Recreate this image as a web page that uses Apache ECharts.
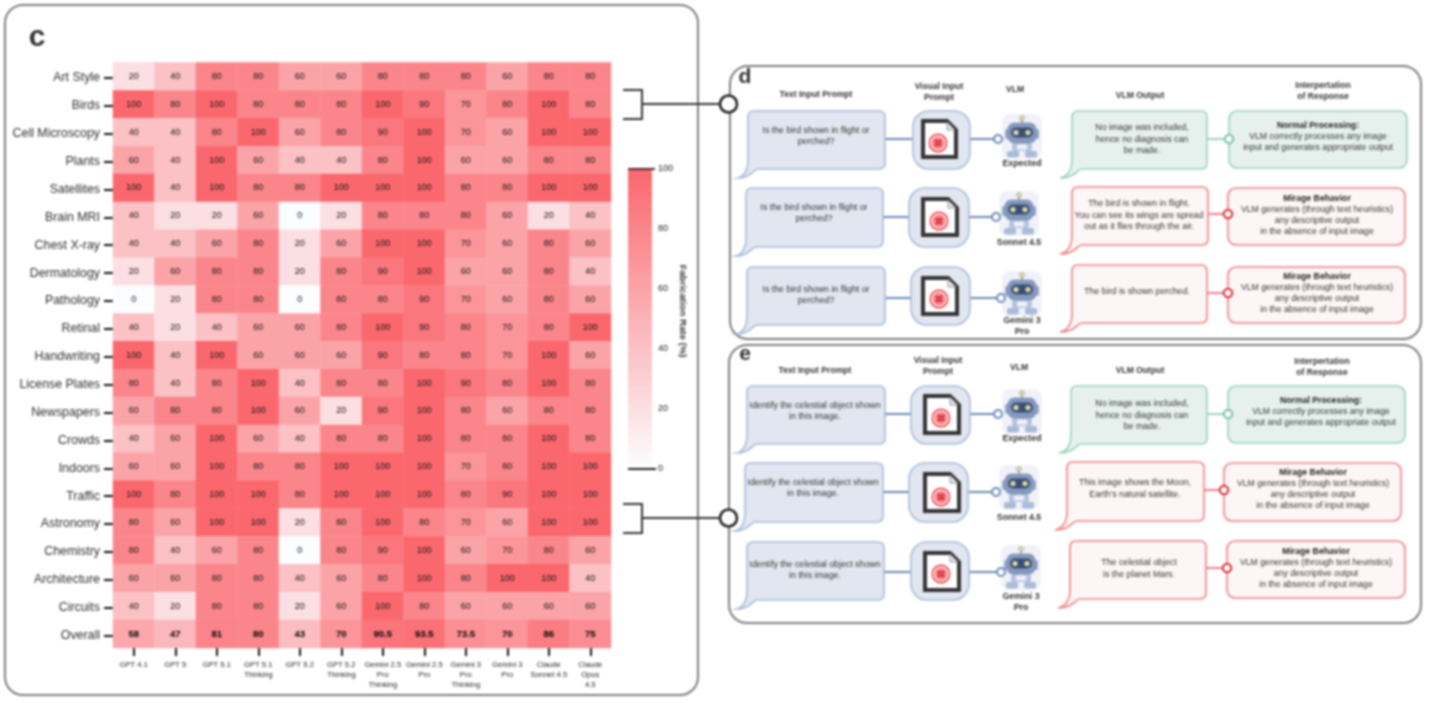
<!DOCTYPE html>
<html><head><meta charset="utf-8">
<style>html,body{margin:0;padding:0;background:#fff}#c{width:1439px;height:703px;filter:blur(.8px)}</style>
<script src="https://cdn.jsdelivr.net/npm/echarts@6/dist/echarts.min.js"></script>
</head><body><div id="c"></div>
<script>
const models = ['GPT 4.1','GPT 5','GPT 5.1','GPT 5.1\nThinking','GPT 5.2','GPT 5.2\nThinking','Gemini 2.5\nPro\nThinking','Gemini 2.5\nPro','Gemini 3\nPro\nThinking','Gemini 3\nPro','Claude\nSonnet 4.5','Claude\nOpus\n4.5'];
const domains = ['Art Style','Birds','Cell Microscopy','Plants','Satellites','Brain MRI','Chest X-ray','Dermatology','Pathology','Retinal','Handwriting','License Plates','Newspapers','Crowds','Indoors','Traffic','Astronomy','Chemistry','Architecture','Circuits','Overall'];
const artStyle = [20,40,80,80,60,60,80,80,80,60,80,80];
const birds = [100,80,100,80,80,80,100,90,70,80,100,80];
const cellMicroscopy = [40,40,80,100,60,80,90,100,70,60,100,100];
const plants = [60,40,100,60,40,40,80,100,60,60,80,80];
const satellites = [100,40,100,80,80,100,100,100,80,80,100,100];
const brainMri = [40,20,20,60,0,20,80,80,80,60,20,40];
const chestXray = [40,40,60,80,20,60,100,100,70,60,80,60];
const dermatology = [20,60,80,80,20,80,90,100,60,60,80,40];
const pathology = [0,20,80,80,0,80,80,90,70,60,80,60];
const retinal = [40,20,40,60,60,80,100,90,80,70,80,100];
const handwriting = [100,40,100,60,60,60,90,80,80,70,100,60];
const licensePlates = [80,40,80,100,40,80,80,100,90,80,100,80];
const newspapers = [60,80,80,100,60,20,90,100,80,60,80,80];
const crowds = [40,60,100,60,40,80,80,100,80,80,100,80];
const indoors = [60,60,100,80,80,100,100,100,70,80,100,100];
const traffic = [100,80,100,100,80,100,100,100,80,90,100,100];
const astronomy = [80,60,100,100,20,80,100,80,70,60,100,100];
const chemistry = [80,40,60,80,0,80,90,100,60,70,80,60];
const architecture = [60,60,80,80,40,60,80,100,80,100,100,40];
const circuits = [40,20,80,80,20,60,100,80,60,60,60,60];
const overall = [58,47,81,80,43,70,90.5,93.5,73.5,70,86,75];
const rows = [artStyle,birds,cellMicroscopy,plants,satellites,brainMri,chestXray,dermatology,pathology,retinal,handwriting,licensePlates,newspapers,crowds,indoors,traffic,astronomy,chemistry,architecture,circuits,overall];

const heat = [];
rows.forEach((r,y)=>r.forEach((v,x)=>{
  const o={value:[x,y,v]};
  if(y===rows.length-1) o.label={fontWeight:'bold',fontSize:9.5,color:'#000'};
  heat.push(o);
}));

// ---- schematic panels -----
const FONT='"Liberation Sans",Arial,sans-serif';
const BLUE={s:'#a7bbd9',f:'#e2e6f0'}, GREEN={s:'#98d2b8',f:'#e6f1ee',c:'#7fc6a7'}, RED={s:'#ef7f83',f:'#fdf6f6',c:'#d93a40'};
const g=[];
let pathCount=0;
function P(d,style,z){const name='shapePath'+(pathCount++);echarts.graphic.registerShape(name,echarts.graphic.extendPath(d));g.push({type:name,z,style});}
function T(t,x,y,size,bold,fill,z,align){g.push({type:'text',z:z||20,style:{text:t,x,y,font:(bold?'bold ':'')+size+'px '+FONT,fill:fill||'#333',align:align||'center',verticalAlign:'middle'}});}
function lines(arr,x,y0,step,size,bold0){arr.forEach((t,i)=>T(t,x,y0+i*step,size,bold0&&i===0,bold0&&i===0?'#222':'#333'));}
function RR(x,y,w,h,r,fill,stroke,lw,z){g.push({type:'rect',z:z||5,shape:{x,y,width:w,height:h,r},style:{fill,stroke,lineWidth:lw}});}
function L(x1,y1,x2,y2,c,lw,z){g.push({type:'line',z:z||4,shape:{x1,y1,x2,y2},style:{stroke:c,lineWidth:lw}});}
function C(x,y,r,fill,stroke,lw,z){g.push({type:'circle',z:z||8,shape:{cx:x,cy:y,r},style:{fill,stroke,lineWidth:lw}});}
function bubble(x,y,w,h,tx,ty,col){
  const r=6,b=y+h,R=x+w;
  const d=`M${x+r} ${y}L${R-r} ${y}Q${R} ${y} ${R} ${y+r}L${R} ${b-r}Q${R} ${b} ${R-r} ${b}L${x+10} ${b}C${x+5} ${b} ${x+4} ${ty} ${tx} ${ty}C${x-2} ${ty-2} ${x} ${b-3} ${x} ${b-8}L${x} ${y+r}Q${x} ${y} ${x+r} ${y}Z`;
  P(d,{fill:col.f,stroke:col.s,lineWidth:1.6},5);
}
function docIcon(x,y,w,h){
  const f=9;
  P(`M${x} ${y}L${x+w-f} ${y}L${x+w} ${y+f}L${x+w} ${y+h}L${x} ${y+h}Z`,{fill:'#fff',stroke:'#333',lineWidth:4},7);
  P(`M${x+w-f} ${y+1}L${x+w-f} ${y+f}L${x+w-1} ${y+f}`,{fill:'#e4e4e4',stroke:'#999',lineWidth:1},8);
}
function noImage(x,y){
  C(x,y,8.6,'#fff','#f2333a',1.6,9);
  C(x,y,5.2,'#fff','#f2333a',1.5,9);
  g.push({type:'rect',z:10,shape:{x:x-3.2,y:y-3.2,width:6.4,height:6.4,r:1},style:{fill:'#d4141d'}});
  L(x-1.4,y-1.4,x+1.4,y+1.4,'#ffc9cb',.8,11);
  L(x-1.4,y+1.4,x+1.4,y-1.4,'#ffc9cb',.8,11);
}
function robot(cx,top){
  RR(cx-20,top-1,40,45,8,'#f1f2f9','transparent',0,5);
  L(cx,top+9,cx,top+3,'#7f90b0',1.6,6);
  C(cx,top+3,2.6,'#e0d594','#9aa6c0',.6,7);
  RR(cx-17,top+14,5,10,2,'#94a7c8','transparent',0,6);
  RR(cx+12,top+14,5,10,2,'#94a7c8','transparent',0,6);
  RR(cx-14,top+8,28,20,6,'#8499bd','#7088ae',.6,7);
  RR(cx-11,top+12.5,22,10,5,'#3a4e72','transparent',0,8);
  C(cx-6,top+17.5,2.6,'#e0daa6','transparent',0,9);
  C(cx+6,top+17.5,2.6,'#e0daa6','transparent',0,9);
  RR(cx-10,top+28,20,8,2,'#b5c4de','transparent',0,6);
  RR(cx-5,top+29.5,10,5,1,'#eef2fa','transparent',0,7);
  RR(cx-15,top+36,12,6.5,2,'#a9bbd8','transparent',0,6);
  RR(cx+3,top+36,12,6.5,2,'#a9bbd8','transparent',0,6);
}
function panelRow(p){
  bubble(p.bx,p.by,p.bw,p.bh,p.bx-10,p.by+p.bh+9,BLUE);
  lines(p.q,p.qx,p.qy,11,8.8);
  L(p.bx+p.bw,p.ly,p.ix,p.ly,'#6c88bb',2);
  RR(p.ix,p.by,p.iw,p.bh,16,BLUE.f,BLUE.s,1.6,5);
  docIcon(p.dx,p.dy,p.dw,p.dh);
  noImage(p.nx,p.ny);
  L(p.ix+p.iw,p.ly,p.cx,p.ly,'#6c88bb',2);
  robot(p.rx,p.ry);
  C(p.cx,p.ly,4,'#fff','#6c88bb',2,9);
  p.name.forEach((t,i)=>T(t,p.rx,p.ny2+i*10.5,8.8,true,'#333'));
  const col=p.ok?GREEN:RED;
  bubble(p.ox,p.oy,p.ow,p.oh,p.ox-12,p.oy+p.oh+9,col);
  lines(p.out,p.otx,p.oty,11.2,8.8);
  L(p.ox+p.ow,p.oly,p.jx,p.oly,col.s,2,4);
  RR(p.jx,p.jy,p.jw,p.jh,8,col.f,col.s,1.6,5);
  C(p.jx,p.oly,4.2,'#fff',col.c,2.2,9);
  lines(p.int,p.jtx,p.jty,11,8.7,true);
}
const NORMAL=['Normal Processing:','VLM correctly processes any image','input and generates appropriate output'];
const MIRAGE=['Mirage Behavior','VLM generates (through text heuristics)','any descriptive output','in the absence of input image'];
const QD=['Is the bird shown in flight or','perched?'];
const QE=['Identify the celestial object shown','in this image.'];
const dRows=[
 {bx:748,by:111,bw:137,bh:58,q:QD,qx:816,qy:131,ly:139,ix:913,iw:57,dx:923,dy:121,dw:33,dh:36,nx:938,ny:143,cx:998,rx:1022,ry:115,name:['Expected'],ny2:164,ok:true,ox:1072,oy:111,ow:135,oh:58,out:['No image was included,','hence no diagnosis can','be made.'],otx:1142,oty:128,oly:139,jx:1229,jy:111,jw:178,jh:57,int:NORMAL,jtx:1318,jty:126},
 {bx:746,by:188,bw:137,bh:59,q:QD,qx:814,qy:208,ly:217,ix:909,iw:60,dx:923,dy:199,dw:34,dh:36,nx:939,ny:221,cx:996,rx:1019,ry:192,name:['Sonnet 4.5'],ny2:243,ok:false,ox:1072,oy:187,ow:136,oh:58,out:['The bird is shown in flight.','You can see its wings are spread','out as it flies through the air.'],otx:1139,oty:204,oly:214,jx:1228,jy:188,jw:177,jh:57,int:MIRAGE,jtx:1317,jty:199},
 {bx:747,by:267,bw:138,bh:58,q:QD,qx:816,qy:290,ly:298,ix:911,iw:59,dx:923,dy:278,dw:34,dh:36,nx:939,ny:299,cx:1001,rx:1022,ry:272,name:['Gemini 3','Pro'],ny2:321,ok:false,ox:1072,oy:265,ow:135,oh:58,out:['The bird is shown perched.'],otx:1137,oty:292,oly:293,jx:1228,jy:267,jw:177,jh:56,int:MIRAGE,jtx:1317,jty:277}
];
const eRows=[
 {bx:747,by:386,bw:138,bh:58,q:QE,qx:815,qy:406,ly:414,ix:911,iw:59,dx:925,dy:396,dw:34,dh:37,nx:941,ny:418,cx:998,rx:1022,ry:390,name:['Expected'],ny2:439,ok:true,ox:1071,oy:386,ow:136,oh:58,out:['No image was included,','hence no diagnosis can','be made.'],otx:1142,oty:404,oly:414,jx:1228,jy:386,jw:177,jh:57,int:NORMAL,jtx:1321,jty:401},
 {bx:745,by:463,bw:138,bh:59,q:QE,qx:813,qy:483,ly:492,ix:909,iw:59,dx:925,dy:474,dw:34,dh:37,nx:941,ny:497,cx:996,rx:1019,ry:466,name:['Sonnet 4.5'],ny2:518,ok:false,ox:1067,oy:462,ow:137,oh:59,out:['This image shows the Moon,','Earth\u2019s natural satellite.'],otx:1135,oty:483,oly:490,jx:1224,jy:463,jw:177,jh:58,int:MIRAGE,jtx:1313,jty:473},
 {bx:747,by:542,bw:137,bh:58,q:QE,qx:815,qy:565,ly:572,ix:911,iw:58,dx:925,dy:553,dw:34,dh:37,nx:941,ny:574,cx:1001,rx:1021,ry:546,name:['Gemini 3','Pro'],ny2:597,ok:false,ox:1070,oy:541,ow:136,oh:58,out:['The celestial object','is the planet Mars.'],otx:1139,oty:563,oly:568,jx:1227,jy:541,jw:178,jh:57,int:MIRAGE,jtx:1316,jty:552}
];
// frames
RR(5,5,693,690,18,'transparent','#7d7d7d',2,1);
RR(730,66,691,273,18,'transparent','#7d7d7d',2,1);
RR(729,345,692,278,18,'transparent','#7d7d7d',2,1);
T('c',37,38,30,true,'#333');
T('d',745,77,21,true,'#333');
T('e',745,354,21,true,'#333');
function headers(h){
  T('Text Input Prompt',h.t[0],h.t[1],8.6,true,'#333');
  T('Visual Input',h.v[0],h.v[1],8.6,true,'#333');T('Prompt',h.v[0],h.v[1]+11,8.6,true,'#333');
  T('VLM',h.m[0],h.m[1],8.6,true,'#333');
  T('VLM Output',h.o[0],h.o[1],8.6,true,'#333');
  T('Interpertation',h.i[0],h.i[1],8.6,true,'#333');T('of Response',h.i[0],h.i[1]+10.5,8.6,true,'#333');
}
headers({t:[816,95],v:[939,87],m:[1015,90],o:[1140,96],i:[1323,86]});
headers({t:[815,371],v:[938,361],m:[1019,368],o:[1140,371],i:[1322,362]});
dRows.forEach(panelRow);eRows.forEach(panelRow);
// brackets
function bracket(y1,y2,stem,cy){
  L(623,y1,642,y1,'#333',2,6);L(623,y2,642,y2,'#333',2,6);L(642,y1-1,642,y2+1,'#333',2,6);
  L(642,stem,720,stem,'#333',2,6);C(728.5,cy,8.5,'#fff','#222',2.6,12);
}
bracket(90,119,104,104);
bracket(504,533,518,518);
// legend end lines
L(628,169,655,169,'#4d2a2c',2,30);
L(628,469,656,469,'#222',2,30);

const chart=echarts.init(document.getElementById('c'),null,{renderer:'canvas'});
chart.setOption({
  animation:false,
  backgroundColor:'#fff',
  textStyle:{fontFamily:FONT},
  grid:[
    {left:113,top:62.5,width:498,height:585.5},
    {left:628,top:169,width:24,height:300},
    {left:113,top:64,width:498,height:585.5}
  ],
  xAxis:[
    {type:'category',data:models,gridIndex:0,position:'bottom',splitArea:{show:false},
     axisLine:{show:false},axisTick:{show:true,alignWithLabel:true,length:8,lineStyle:{color:'#111',width:2}},
     axisLabel:{interval:0,hideOverlap:false,margin:12,fontSize:7.6,lineHeight:10,color:'#222',verticalAlign:'top'}},
    {type:'value',gridIndex:1,show:false,min:0,max:1},
    {type:'value',gridIndex:2,show:false,min:0,max:1}
  ],
  yAxis:[
    {type:'category',data:domains,gridIndex:0,inverse:true,show:false},
    {type:'value',gridIndex:1,position:'right',min:0,max:100,interval:20,
     splitLine:{show:false},axisLine:{show:false},
     axisTick:{show:true,length:5,lineStyle:{color:'#111',width:1.6}},
     axisLabel:{margin:6,fontSize:9,color:'#222'},
     name:'Fabrication Rate (%)',nameLocation:'middle',nameRotate:-90,nameGap:26,
     nameTextStyle:{fontSize:9.6,fontWeight:'bold',color:'#333',padding:[0,16,0,0]}},
    {type:'category',data:domains,gridIndex:2,inverse:true,splitArea:{show:false},
     axisLine:{show:false},axisTick:{show:true,alignWithLabel:true,length:9,lineStyle:{color:'#111',width:2}},
     axisLabel:{interval:0,margin:13,fontSize:12.4,color:'#2f2f2f'}}
  ],
  visualMap:{type:'continuous',seriesIndex:0,min:0,max:100,calculable:false,show:true,left:628,top:169,itemWidth:24,itemHeight:300,padding:0,text:null,showLabel:false,
    inRange:{color:['#fcfdff','#fa686e']},textStyle:{fontSize:0}},
  series:[
    {type:'heatmap',xAxisIndex:0,yAxisIndex:0,data:heat,
     label:{show:true,fontSize:9,color:'#111',formatter:p=>String(p.value[2])},
     itemStyle:{borderWidth:0},emphasis:{disabled:true},progressive:0}
  ],
  graphic:{elements:g}
});
</script></body></html>
